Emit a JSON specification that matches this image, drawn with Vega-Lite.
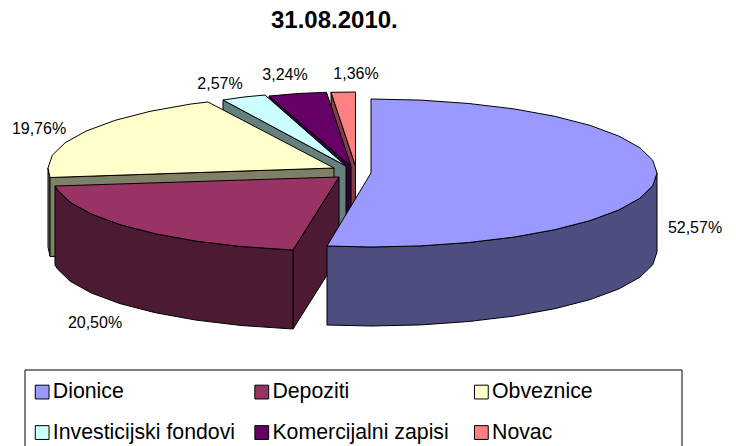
{
"$schema":"https://vega.github.io/schema/vega-lite/v6.json",
"width":736,"height":446,"padding":0,"autosize":{"type":"none"},
"background":"white",
"title":{"text":"31.08.2010.","font":"Liberation Sans","fontSize":24,"fontWeight":"bold","color":"#000000","anchor":"start","frame":"group","offset":-33,"dx":271},
"config":{"view":{"stroke":null}},
"datasets":{
"frame":[{"part":"legend frame","x":25,"x2":682,"y":370,"y2":470}],
"sides":[
{"slice":"Novac","face":"cut","seq":1,"x":331,"y":92},{"slice":"Novac","face":"cut","seq":2,"x":355.5,"y":166},{"slice":"Novac","face":"cut","seq":3,"x":355.5,"y":245},{"slice":"Novac","face":"cut","seq":4,"x":331,"y":171},{"slice":"Novac","face":"cut","seq":5,"x":331,"y":92},
{"slice":"Komercijalni zapisi","face":"cut","seq":1,"x":269,"y":96},{"slice":"Komercijalni zapisi","face":"cut","seq":2,"x":351,"y":166},{"slice":"Komercijalni zapisi","face":"cut","seq":3,"x":351,"y":245},{"slice":"Komercijalni zapisi","face":"cut","seq":4,"x":269,"y":175},{"slice":"Komercijalni zapisi","face":"cut","seq":5,"x":269,"y":96},
{"slice":"Investicijski fondovi","face":"cut","seq":1,"x":223,"y":100},{"slice":"Investicijski fondovi","face":"cut","seq":2,"x":346,"y":166},{"slice":"Investicijski fondovi","face":"cut","seq":3,"x":346,"y":245},{"slice":"Investicijski fondovi","face":"cut","seq":4,"x":223,"y":179},{"slice":"Investicijski fondovi","face":"cut","seq":5,"x":223,"y":100},
{"slice":"Obveznice","face":"rim","seq":1,"x":48,"y":168},{"slice":"Obveznice","face":"rim","seq":2,"x":50,"y":177},{"slice":"Obveznice","face":"rim","seq":3,"x":50,"y":256},{"slice":"Obveznice","face":"rim","seq":4,"x":48,"y":247},{"slice":"Obveznice","face":"rim","seq":5,"x":48,"y":168},
{"slice":"Obveznice","face":"cut","seq":1,"x":334,"y":168},{"slice":"Obveznice","face":"cut","seq":2,"x":50,"y":177.5},{"slice":"Obveznice","face":"cut","seq":3,"x":50,"y":256.5},{"slice":"Obveznice","face":"cut","seq":4,"x":334,"y":247},{"slice":"Obveznice","face":"cut","seq":5,"x":334,"y":168},
{"slice":"Depoziti","face":"cut","seq":1,"x":339,"y":177},{"slice":"Depoziti","face":"cut","seq":2,"x":293,"y":250},{"slice":"Depoziti","face":"cut","seq":3,"x":293,"y":329},{"slice":"Depoziti","face":"cut","seq":4,"x":339,"y":256},{"slice":"Depoziti","face":"cut","seq":5,"x":339,"y":177},
{"slice":"Depoziti","face":"rim","seq":1,"x":293,"y":250},{"slice":"Depoziti","face":"rim","seq":2,"x":241.2,"y":246.5},{"slice":"Depoziti","face":"rim","seq":3,"x":196,"y":241.1},{"slice":"Depoziti","face":"rim","seq":4,"x":155.2,"y":233.7},{"slice":"Depoziti","face":"rim","seq":5,"x":119.9,"y":224.6},{"slice":"Depoziti","face":"rim","seq":6,"x":91.3,"y":214},{"slice":"Depoziti","face":"rim","seq":7,"x":70.2,"y":202.3},{"slice":"Depoziti","face":"rim","seq":8,"x":57.3,"y":189.8},{"slice":"Depoziti","face":"rim","seq":9,"x":55,"y":186},{"slice":"Depoziti","face":"rim","seq":10,"x":55,"y":265},{"slice":"Depoziti","face":"rim","seq":11,"x":57.3,"y":268.8},{"slice":"Depoziti","face":"rim","seq":12,"x":70.2,"y":281.3},{"slice":"Depoziti","face":"rim","seq":13,"x":91.3,"y":293},{"slice":"Depoziti","face":"rim","seq":14,"x":119.9,"y":303.6},{"slice":"Depoziti","face":"rim","seq":15,"x":155.2,"y":312.7},{"slice":"Depoziti","face":"rim","seq":16,"x":196,"y":320.1},{"slice":"Depoziti","face":"rim","seq":17,"x":241.2,"y":325.5},{"slice":"Depoziti","face":"rim","seq":18,"x":293,"y":329},{"slice":"Depoziti","face":"rim","seq":19,"x":293,"y":250},
{"slice":"Dionice","face":"rim","seq":1,"x":657,"y":173},{"slice":"Dionice","face":"rim","seq":2,"x":652.7,"y":185.8},{"slice":"Dionice","face":"rim","seq":3,"x":639.8,"y":198.3},{"slice":"Dionice","face":"rim","seq":4,"x":618.7,"y":210},{"slice":"Dionice","face":"rim","seq":5,"x":590.1,"y":220.6},{"slice":"Dionice","face":"rim","seq":6,"x":554.8,"y":229.7},{"slice":"Dionice","face":"rim","seq":7,"x":514,"y":237.1},{"slice":"Dionice","face":"rim","seq":8,"x":468.8,"y":242.5},{"slice":"Dionice","face":"rim","seq":9,"x":420.7,"y":245.9},{"slice":"Dionice","face":"rim","seq":10,"x":371,"y":247},{"slice":"Dionice","face":"rim","seq":11,"x":327,"y":246},{"slice":"Dionice","face":"rim","seq":12,"x":327,"y":325},{"slice":"Dionice","face":"rim","seq":13,"x":371,"y":326},{"slice":"Dionice","face":"rim","seq":14,"x":420.7,"y":324.9},{"slice":"Dionice","face":"rim","seq":15,"x":468.8,"y":321.5},{"slice":"Dionice","face":"rim","seq":16,"x":514,"y":316.1},{"slice":"Dionice","face":"rim","seq":17,"x":554.8,"y":308.7},{"slice":"Dionice","face":"rim","seq":18,"x":590.1,"y":299.6},{"slice":"Dionice","face":"rim","seq":19,"x":618.7,"y":289},{"slice":"Dionice","face":"rim","seq":20,"x":639.8,"y":277.3},{"slice":"Dionice","face":"rim","seq":21,"x":652.7,"y":264.8},{"slice":"Dionice","face":"rim","seq":22,"x":657,"y":252},{"slice":"Dionice","face":"rim","seq":23,"x":657,"y":173}
],
"tops":[
{"slice":"Dionice","seq":1,"x":371,"y":173},{"slice":"Dionice","seq":2,"x":371,"y":99},{"slice":"Dionice","seq":3,"x":420.7,"y":100.1},{"slice":"Dionice","seq":4,"x":468.8,"y":103.5},{"slice":"Dionice","seq":5,"x":514,"y":108.9},{"slice":"Dionice","seq":6,"x":554.8,"y":116.3},{"slice":"Dionice","seq":7,"x":590.1,"y":125.4},{"slice":"Dionice","seq":8,"x":618.7,"y":136},{"slice":"Dionice","seq":9,"x":639.8,"y":147.7},{"slice":"Dionice","seq":10,"x":652.7,"y":160.2},{"slice":"Dionice","seq":11,"x":657,"y":173},{"slice":"Dionice","seq":12,"x":652.7,"y":185.8},{"slice":"Dionice","seq":13,"x":639.8,"y":198.3},{"slice":"Dionice","seq":14,"x":618.7,"y":210},{"slice":"Dionice","seq":15,"x":590.1,"y":220.6},{"slice":"Dionice","seq":16,"x":554.8,"y":229.7},{"slice":"Dionice","seq":17,"x":514,"y":237.1},{"slice":"Dionice","seq":18,"x":468.8,"y":242.5},{"slice":"Dionice","seq":19,"x":420.7,"y":245.9},{"slice":"Dionice","seq":20,"x":371,"y":247},{"slice":"Dionice","seq":21,"x":327,"y":246},{"slice":"Dionice","seq":22,"x":371,"y":173},
{"slice":"Depoziti","seq":1,"x":339,"y":177},{"slice":"Depoziti","seq":2,"x":293,"y":250},{"slice":"Depoziti","seq":3,"x":241.2,"y":246.5},{"slice":"Depoziti","seq":4,"x":196,"y":241.1},{"slice":"Depoziti","seq":5,"x":155.2,"y":233.7},{"slice":"Depoziti","seq":6,"x":119.9,"y":224.6},{"slice":"Depoziti","seq":7,"x":91.3,"y":214},{"slice":"Depoziti","seq":8,"x":70.2,"y":202.3},{"slice":"Depoziti","seq":9,"x":57.3,"y":189.8},{"slice":"Depoziti","seq":10,"x":55,"y":186},{"slice":"Depoziti","seq":11,"x":339,"y":177},
{"slice":"Obveznice","seq":1,"x":334,"y":168},{"slice":"Obveznice","seq":2,"x":208,"y":102},{"slice":"Obveznice","seq":3,"x":191,"y":104},{"slice":"Obveznice","seq":4,"x":150.2,"y":111.3},{"slice":"Obveznice","seq":5,"x":114.9,"y":120.4},{"slice":"Obveznice","seq":6,"x":86.3,"y":131},{"slice":"Obveznice","seq":7,"x":65.2,"y":142.7},{"slice":"Obveznice","seq":8,"x":52.3,"y":155.2},{"slice":"Obveznice","seq":9,"x":48,"y":168},{"slice":"Obveznice","seq":10,"x":50,"y":177.5},{"slice":"Obveznice","seq":11,"x":334,"y":168},
{"slice":"Investicijski fondovi","seq":1,"x":346,"y":166},{"slice":"Investicijski fondovi","seq":2,"x":223,"y":100},{"slice":"Investicijski fondovi","seq":3,"x":244,"y":97},{"slice":"Investicijski fondovi","seq":4,"x":265,"y":95},{"slice":"Investicijski fondovi","seq":5,"x":346,"y":166},
{"slice":"Komercijalni zapisi","seq":1,"x":351,"y":166},{"slice":"Komercijalni zapisi","seq":2,"x":269,"y":96},{"slice":"Komercijalni zapisi","seq":3,"x":298,"y":93.5},{"slice":"Komercijalni zapisi","seq":4,"x":326.5,"y":92.3},{"slice":"Komercijalni zapisi","seq":5,"x":351,"y":166},
{"slice":"Novac","seq":1,"x":355.5,"y":166},{"slice":"Novac","seq":2,"x":331,"y":92.3},{"slice":"Novac","seq":3,"x":355.5,"y":92},{"slice":"Novac","seq":4,"x":355.5,"y":166}
],
"labels":[
{"label":"52,57%","x":695,"y":228},{"label":"20,50%","x":95,"y":323},{"label":"19,76%","x":39,"y":129},{"label":"2,57%","x":220,"y":84},{"label":"3,24%","x":285,"y":75},{"label":"1,36%","x":356,"y":74}
]
},
"layer":[
{"data":{"name":"frame"},
"mark":{"type":"rect","fill":"#FFFFFF","stroke":"#000000","strokeWidth":1},
"encoding":{
"x":{"field":"x","type":"quantitative","scale":{"domain":[0,736]},"axis":null},
"x2":{"field":"x2"},
"y":{"field":"y","type":"quantitative","scale":{"domain":[446,0]},"axis":null},
"y2":{"field":"y2"}
}},
{"data":{"name":"sides"},
"mark":{"type":"line","stroke":"#000000","strokeWidth":1,"interpolate":"linear"},
"encoding":{
"x":{"field":"x","type":"quantitative","scale":{"domain":[0,736]},"axis":null},
"y":{"field":"y","type":"quantitative","scale":{"domain":[446,0]},"axis":null},
"detail":{"field":"face"},
"order":{"field":"seq"},
"fill":{"field":"slice","type":"nominal","legend":null,"sort":null,"scale":{"domain":["Dionice","Depoziti","Obveznice","Investicijski fondovi","Komercijalni zapisi","Novac"],"range":["#4D4D80","#4D1A33","#808066","#668080","#330033","#804040"]}}
}},
{"data":{"name":"tops"},
"mark":{"type":"line","stroke":"#000000","strokeWidth":1,"interpolate":"linear"},
"encoding":{
"x":{"field":"x","type":"quantitative","scale":{"domain":[0,736]},"axis":null},
"y":{"field":"y","type":"quantitative","scale":{"domain":[446,0]},"axis":null},
"order":{"field":"seq"},
"fill":{"field":"slice","type":"nominal","sort":null,"scale":{"domain":["Dionice","Depoziti","Obveznice","Investicijski fondovi","Komercijalni zapisi","Novac"],"range":["#9999FF","#993366","#FFFFCC","#CCFFFF","#660066","#FF8080"]},
"legend":{"title":null,"orient":"none","legendX":31.5,"legendY":381.4,"columns":3,"gridAlign":"all","direction":"horizontal","symbolType":"square","symbolSize":190,"symbolStrokeColor":"#000000","symbolStrokeWidth":1,"symbolOpacity":1,"labelFont":"Liberation Sans","labelFontSize":21.3,"labelColor":"#000000","labelOffset":0,"labelLimit":300,"rowPadding":18.5,"columnPadding":15.6,"padding":0}}
}},
{"data":{"name":"labels"},
"mark":{"type":"text","font":"Liberation Sans","fontSize":16,"color":"#000000","align":"center","baseline":"middle"},
"encoding":{
"x":{"field":"x","type":"quantitative","scale":{"domain":[0,736]},"axis":null},
"y":{"field":"y","type":"quantitative","scale":{"domain":[446,0]},"axis":null},
"text":{"field":"label"}
}}
],
"resolve":{"scale":{"fill":"independent"}}
}
